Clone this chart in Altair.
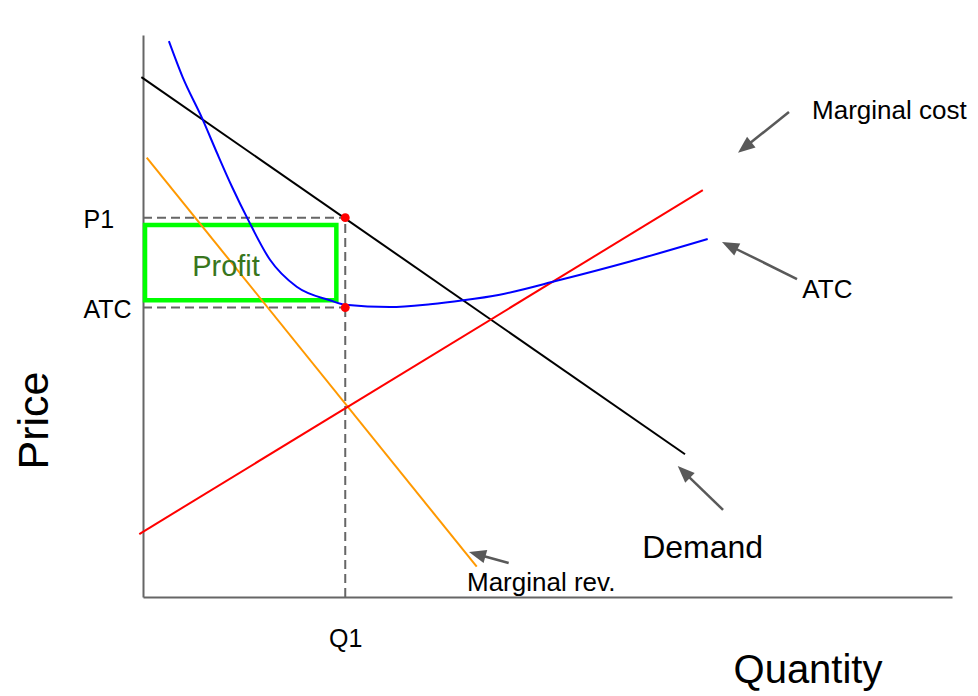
import math
import altair as alt
import pandas as pd

# ---------------- data (Quantity / Price units, 0..100) ----------------
Q1 = 25.0
P1 = 67.5
ATC_LEVEL = 51.5

demand_q = [-0.2, 67.0]
demand_p = [92.5, 25.4]
mr_q = [0.46, 41.25]
mr_p = [78.2, 5.4]
mc_q = [-0.46, 69.2]
mc_p = [11.2, 72.4]
atc_q = [3.2, 4.9, 7.3, 9.15, 11.0, 13.0, 15.7, 19.0, 23.1, 25.0, 30.5, 35.5, 39.6, 44.1, 51.5, 60.2, 69.8]
atc_p = [98.9, 92.5, 85.2, 79.0, 73.0, 67.1, 60.0, 55.2, 52.8, 52.0, 51.6, 52.1, 52.8, 53.8, 56.4, 59.7, 63.7]

curve_names = ["Demand", "Marginal rev.", "Marginal cost", "ATC"]
curve_colors = ["#000000", "#ff9900", "#ff0000", "#0000ff"]

profit_q = [0.25, 23.9]
profit_p = [52.8, 66.2]
profit_label_q = 10.26
profit_label_p = 57.1

label_text = ["Marginal cost", "ATC", "Demand", "Marginal rev."]
label_q = [82.7, 81.5, 61.7, 40.05]
label_p = [85.05, 53.2, 6.9, 1.07]
label_size = [26, 26, 32, 26]

arrow_tail_q = [79.85, 80.84, 71.7, 45.2]
arrow_tail_p = [86.3, 56.58, 15.5, 6.05]
arrow_tip_q = [73.55, 71.57, 66.1, 40.3]
arrow_tip_p = [79.06, 63.17, 23.3, 8.0]

# ---------------- layout ----------------
W, H = 809, 562
QMAX, PMAX = 100, 100
KX, KY = W / QMAX, H / PMAX
FONT = "Liberation Sans"
AXIS_GRAY = "#666666"
ARROW_GRAY = "#595959"
HEAD = 17

xscale = alt.Scale(domain=[0, QMAX], nice=False, zero=False)
yscale = alt.Scale(domain=[0, PMAX], nice=False, zero=False)

xaxis = alt.Axis(
    values=[Q1], labelExpr="'Q1'", title="Quantity",
    ticks=False, tickSize=0, grid=False, domain=True,
    domainColor=AXIS_GRAY, domainWidth=2,
    labelFont=FONT, labelFontSize=25, labelColor="black",
    labelPadding=29, labelFlush=False,
    titleFont=FONT, titleFontSize=40, titleFontWeight="normal", titleColor="black",
    titleX=664.5, titleY=85, titleAlign="center", titleBaseline="alphabetic",
)
yaxis = alt.Axis(
    values=[ATC_LEVEL, P1], labelExpr="datum.value > 60 ? 'P1' : 'ATC'", title="Price",
    ticks=False, tickSize=0, grid=False, domain=True,
    domainColor=AXIS_GRAY, domainWidth=2,
    labelFont=FONT, labelFontSize=25, labelColor="black",
    labelAlign="left", labelBaseline="middle", labelPadding=60, labelOffset=2,
    titleFont=FONT, titleFontSize=43, titleFontWeight="normal", titleColor="black",
    titleAngle=270, titleX=-96, titleY=385, titleAlign="center", titleBaseline="alphabetic",
)


def X(f):
    return alt.X(f, type="quantitative", scale=xscale, axis=xaxis)


def Y(f):
    return alt.Y(f, type="quantitative", scale=yscale, axis=yaxis)


# ---------------- tables ----------------
rows = []
for name, qs, ps in [("Demand", demand_q, demand_p), ("Marginal rev.", mr_q, mr_p),
                     ("Marginal cost", mc_q, mc_p), ("ATC", atc_q, atc_p)]:
    for i, (q, p) in enumerate(zip(qs, ps)):
        rows.append({"curve": name, "Q": q, "P": p, "i": i})
curves_df = pd.DataFrame(rows)

guides_df = pd.DataFrame({
    "q0": [0, 0, Q1], "q1": [Q1, Q1, Q1],
    "p0": [P1, ATC_LEVEL, 0], "p1": [P1, ATC_LEVEL, P1],
})
dots_df = pd.DataFrame({"Q": [Q1, Q1], "P": [P1, ATC_LEVEL]})
profit_df = pd.DataFrame({"q0": [profit_q[0]], "q1": [profit_q[1]],
                          "p0": [profit_p[0]], "p1": [profit_p[1]]})
profit_txt_df = pd.DataFrame({"Q": [profit_label_q], "P": [profit_label_p], "t": ["Profit"]})
labels_df = pd.DataFrame({"t": label_text, "Q": label_q, "P": label_p, "fs": label_size})

arr = pd.DataFrame({"tq": arrow_tail_q, "tp": arrow_tail_p,
                    "hq": arrow_tip_q, "hp": arrow_tip_p})
dxp = (arr.hq - arr.tq) * KX
dyp = -(arr.hp - arr.tp) * KY
L = (dxp ** 2 + dyp ** 2) ** 0.5
arr["ang"] = [math.degrees(math.atan2(a, -b)) % 360 for a, b in zip(dxp, dyp)]
arr["eq"] = arr.hq - dxp / L * HEAD * 0.7 / KX
arr["ep"] = arr.hp + dyp / L * HEAD * 0.7 / KY

# ---------------- layers ----------------
lines = alt.Chart(curves_df).mark_line(strokeWidth=2, interpolate="monotone").encode(
    x=X("Q"), y=Y("P"),
    color=alt.Color("curve:N", scale=alt.Scale(domain=curve_names, range=curve_colors), legend=None),
    detail="curve:N", order="i:Q",
)

guides = alt.Chart(guides_df).mark_rule(strokeDash=[9, 5], strokeWidth=2, color=AXIS_GRAY).encode(
    x=X("q0"), x2="q1", y=Y("p0"), y2="p1"
)

profit_box = alt.Chart(profit_df).mark_rect(fillOpacity=0, stroke="#00ff00", strokeWidth=4.5).encode(
    x=X("q0"), x2="q1", y=Y("p0"), y2="p1"
)

dots = alt.Chart(dots_df).mark_circle(size=80, color="#ff0000", opacity=1).encode(x=X("Q"), y=Y("P"))

profit_txt = alt.Chart(profit_txt_df).mark_text(
    font=FONT, fontSize=29, color="#38761d", align="center", baseline="alphabetic"
).encode(x=X("Q"), y=Y("P"), text="t:N")

labels = alt.Chart(labels_df).mark_text(
    font=FONT, color="black", align="left", baseline="alphabetic"
).encode(x=X("Q"), y=Y("P"), text="t:N", size=alt.Size("fs:Q", scale=None, legend=None))

shafts = alt.Chart(arr).mark_rule(strokeWidth=2.5, color=ARROW_GRAY).encode(
    x=X("tq"), y=Y("tp"), x2="eq", y2="ep"
)
heads = alt.Chart(arr).mark_point(
    shape="M0,0L0.8,2L-0.8,2Z", filled=True, size=HEAD * HEAD, color=ARROW_GRAY,
    opacity=1, strokeWidth=0,
).encode(x=X("hq"), y=Y("hp"), angle=alt.Angle("ang:Q", scale=None))

chart = alt.layer(
    guides, profit_box, lines, dots, profit_txt, labels, shafts, heads
).properties(
    width=W, height=H, autosize="none",
    padding={"left": 135, "top": 27, "right": 18, "bottom": 97},
).configure_view(strokeWidth=0)

chart.save("out.html", embed_options={"renderer": "svg", "actions": False})
